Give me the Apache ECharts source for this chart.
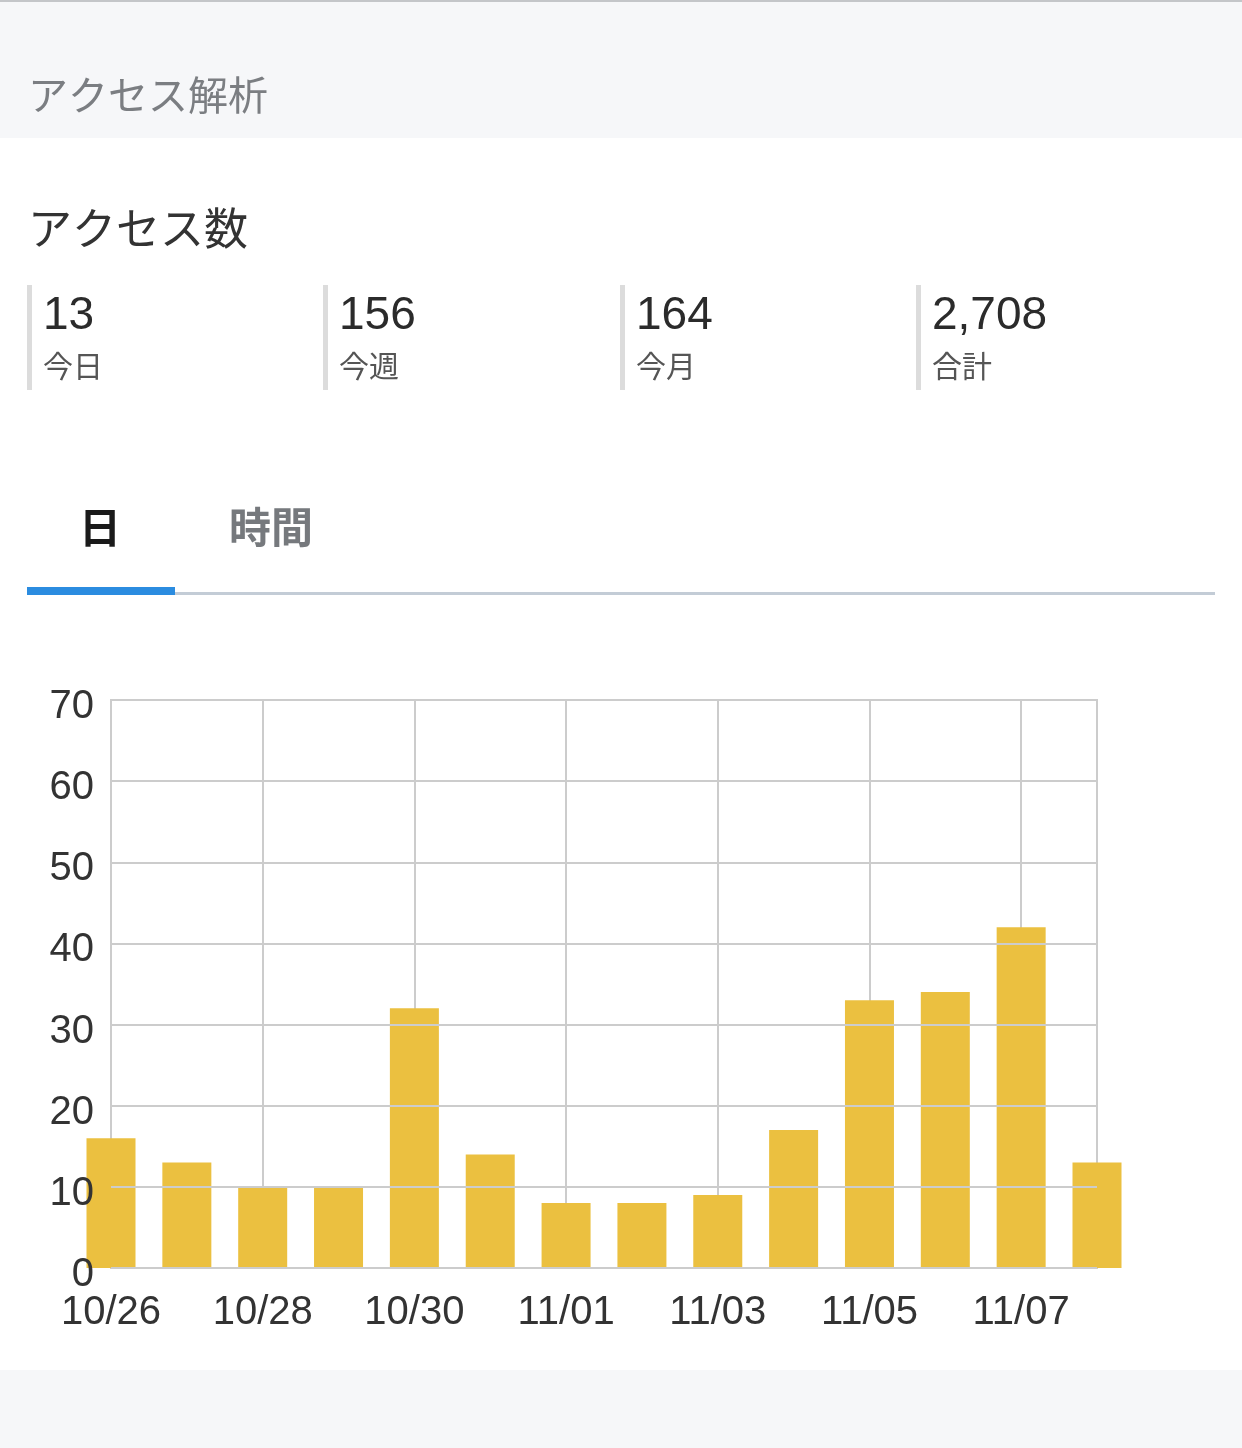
<!DOCTYPE html>
<html>
<head>
<meta charset="utf-8">
<script src="https://cdn.jsdelivr.net/npm/echarts@6/dist/echarts.min.js"></script>
<style>
html,body{margin:0;padding:0;background:#fff;}
#c{width:1242px;height:1448px;}
</style>
</head>
<body>
<div id="c"></div>
<script>
// ---- data ----
const dates = ['10/26','10/27','10/28','10/29','10/30','10/31','11/01','11/02','11/03','11/04','11/05','11/06','11/07','11/08'];
const visits = [16, 13, 10, 10, 32, 14, 8, 8, 9, 17, 33, 34, 42, 13];
const statValues = ['13', '156', '164', '2,708'];
const statLabels = ['今日', '今週', '今月', '合計'];
const tabLabels = ['日', '時間'];
const yTicks = [0, 10, 20, 30, 40, 50, 60, 70];

const JP = '"Noto Sans CJK JP", sans-serif';
const NUM = '"Liberation Sans", Arial, sans-serif';

function txt(x, y, text, font, fill, align) {
  return {
    type: 'text', x: x, y: y, z: 10,
    style: { text: text, font: font, fill: fill,
      align: align || 'left', verticalAlign: 'middle',
      textAlign: align || 'left', textVerticalAlign: 'middle' }
  };
}

const graphics = [
  // header band
  { type: 'rect', shape: { x: 0, y: 0, width: 1242, height: 138 }, style: { fill: '#f6f7f9' }, z: -1 },
  { type: 'rect', shape: { x: 0, y: 0, width: 1242, height: 2 }, style: { fill: '#c4c6c9' }, z: 0 },
  txt(28, 95, 'アクセス解析', '40px ' + JP, '#7b7e82'),
  txt(28, 228, 'アクセス数', '44px ' + JP, '#333333'),
  // bottom band
  { type: 'rect', shape: { x: 0, y: 1370, width: 1242, height: 78 }, style: { fill: '#f6f7f9' }, z: -1 },
  // tabs
  txt(100, 527, tabLabels[0], 'bold 42px ' + JP, '#1a1a1a', 'center'),
  txt(271, 527, tabLabels[1], 'bold 42px ' + JP, '#76797d', 'center'),
  { type: 'rect', shape: { x: 175, y: 592, width: 1040, height: 3 }, style: { fill: '#c3ccd6' } },
  { type: 'rect', shape: { x: 27, y: 587, width: 148, height: 8 }, style: { fill: '#2b8ce0' } }
];
const statX = [27, 323, 620, 916];
statValues.forEach(function (v, i) {
  graphics.push({ type: 'rect', shape: { x: statX[i], y: 285, width: 5, height: 105 }, style: { fill: '#dcdcdc' } });
  graphics.push(txt(statX[i] + 16, 316, v, '46px ' + NUM, '#2b2b2b'));
  graphics.push(txt(statX[i] + 16, 366, statLabels[i], '30px ' + JP, '#555555'));
});

const chart = echarts.init(document.getElementById('c'), null, { renderer: 'canvas' });
chart.setOption({
  animation: false,
  backgroundColor: 'transparent',
  graphic: graphics,
  grid: {
    left: 111, right: 145, top: 700, bottom: 180,
    show: true, borderColor: '#cccccc', borderWidth: 2, backgroundColor: 'transparent'
  },
  xAxis: {
    type: 'category',
    data: dates,
    boundaryGap: false,
    axisTick: { show: false },
    axisLine: { show: true, lineStyle: { color: '#cccccc', width: 2 } },
    axisLabel: {
      interval: 1, margin: 25, fontSize: 40, color: '#333333', fontFamily: NUM
    },
    splitLine: { show: true, interval: 1, lineStyle: { color: '#cccccc', width: 2 } }
  },
  yAxis: {
    type: 'value',
    min: yTicks[0], max: yTicks[yTicks.length - 1], interval: 10,
    z: 5,
    axisLine: { show: false },
    axisTick: { show: false },
    axisLabel: {
      margin: 17, color: '#333333',
      formatter: function (v) { return '{a|' + v + '}'; },
      rich: { a: { fontSize: 40, color: '#333333', fontFamily: NUM, padding: [14, 0, 0, 0] } }
    },
    splitLine: { show: true, lineStyle: { color: '#cccccc', width: 2 } }
  },
  series: [{
    type: 'bar',
    data: visits,
    barWidth: 49,
    itemStyle: { color: '#ebc040' },
    z: 2
  }]
});
</script>
</body>
</html>
